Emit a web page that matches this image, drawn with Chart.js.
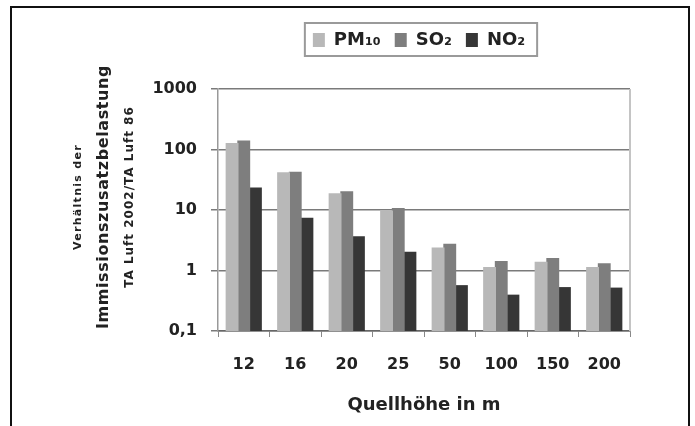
<!DOCTYPE html>
<html><head><meta charset="utf-8">
<script src="https://cdn.jsdelivr.net/npm/chart.js@4.4.1/dist/chart.umd.min.js"></script>
<style>
html,body{margin:0;padding:0;background:#fff;}
#wrap{position:relative;width:695px;height:426px;overflow:hidden;}
#frame{position:absolute;left:10px;top:6px;width:680px;height:440px;border:2px solid #111;border-bottom:none;box-sizing:border-box;}
canvas{position:absolute;left:0;top:0;}
</style></head><body>
<div id="wrap"><div id="frame"></div><canvas id="c" width="695" height="426"></canvas></div>
<script>
const categories = ['12','16','20','25','50','100','150','200'];
const seriesNames = ['PM₁₀','SO₂','NO₂'];
const pm10 = [125, 41, 18.5, 9.6, 2.35, 1.12, 1.36, 1.12];
const so2  = [138, 42, 20, 10.5, 2.7, 1.4, 1.58, 1.29];
const no2  = [23, 7.3, 3.6, 2.0, 0.56, 0.39, 0.52, 0.51];
const yTicks = [0.1, 1, 10, 100, 1000];
const yTickLabels = ['0,1','1','10','100','1000'];
const xTitle = 'Quellhöhe in m';
const yTitleLines = ['Verhältnis der','Immissionszusatzbelastung','TA Luft 2002/TA Luft 86'];

const FONT = '"DejaVu Sans", sans-serif';
const TXT = '#222';

const decor = {
  id: 'decor',
  afterLayout(chart) {
    const lg = chart.legend, ca = chart.chartArea;
    lg.left = ca.left - 5; lg.right = ca.right - 5; lg.width = ca.right - ca.left;
  },
  afterDraw(chart) {
    const ctx = chart.ctx, ca = chart.chartArea;
    ctx.save();
    ctx.strokeStyle = '#c4c4c4'; ctx.lineWidth = 2;
    ctx.beginPath(); ctx.moveTo(ca.right, ca.top); ctx.lineTo(ca.right, ca.bottom); ctx.stroke();
    const hb = chart.legend.legendHitBoxes;
    if (hb && hb.length) {
      const last = hb[hb.length - 1];
      const l = hb[0].left - 8, r = last.left + last.width + 12;
      const t = hb[0].top - 8, b = hb[0].top + hb[0].height + 7;
      ctx.strokeStyle = '#9a9a9a'; ctx.lineWidth = 2;
      ctx.strokeRect(l, t, r - l, b - t);
    }
    const specs = [
      {x: 78, size: 11, sp: '1.3px'},
      {x: 104, size: 16, sp: '0.6px'},
      {x: 130, size: 12, sp: '1px'}
    ];
    const yc = 197;
    ctx.fillStyle = TXT; ctx.textAlign = 'center'; ctx.textBaseline = 'middle';
    specs.forEach((s, i) => {
      ctx.save();
      ctx.translate(s.x, yc);
      ctx.rotate(-Math.PI / 2);
      ctx.font = 'bold ' + s.size + 'px ' + FONT;
      try { ctx.letterSpacing = s.sp; } catch (e) {}
      ctx.fillText(yTitleLines[i], 0, 0);
      ctx.restore();
    });
    ctx.restore();
  }
};

new Chart(document.getElementById('c'), {
  type: 'bar',
  data: {
    labels: categories,
    datasets: [
      {label: seriesNames[0], data: pm10, backgroundColor: '#b8b8b8', borderColor: '#8a8a8a', borderWidth: 0},
      {label: seriesNames[1], data: so2, backgroundColor: '#7e7e7e', borderColor: '#5a5a5a', borderWidth: 0},
      {label: seriesNames[2], data: no2, backgroundColor: '#363636', borderColor: '#1a1a1a', borderWidth: 0}
    ]
  },
  options: {
    responsive: false,
    animation: false,
    devicePixelRatio: 1,
    layout: {padding: {left: 0, right: 65, top: 17, bottom: 0}},
    datasets: {bar: {categoryPercentage: 0.68, barPercentage: 1.0, inflateAmount: 0.6}},
    plugins: {
      legend: {
        position: 'top',
        labels: {
          boxWidth: 12, boxHeight: 14, padding: 14,
          color: TXT, font: {family: FONT, size: 18, weight: 'bold'}
        }
      },
      title: {display: true, text: '', weight: 500, font: {size: 10, lineHeight: 1}, padding: {top: 0, bottom: 20}},
      tooltip: {enabled: false}
    },
    scales: {
      x: {
        afterFit(scale) { scale.height = 95; },
        grid: {display: true, drawOnChartArea: false, drawTicks: true, tickLength: 6, color: '#888', offset: true},
        border: {display: true, color: '#666', width: 1.5},
        ticks: {color: TXT, font: {family: FONT, size: 16, weight: 'bold'}, padding: 18, maxRotation: 0, autoSkip: false},
        title: {display: true, text: xTitle, color: TXT, font: {family: FONT, size: 18, weight: 'bold'}, padding: {top: 0, bottom: 10}}
      },
      y: {
        type: 'logarithmic',
        min: 0.1, max: 1000,
        afterFit(scale) { scale.width = 218; },
        afterBuildTicks(scale) { scale.ticks = yTicks.map(v => ({value: v, major: true})); },
        grid: {color: '#7a7a7a', lineWidth: 1.5, tickLength: 7, drawTicks: true},
        border: {display: true, color: '#999', width: 1.5},
        ticks: {
          color: TXT, padding: 14, autoSkip: false,
          font: {family: FONT, size: 16, weight: 'bold'},
          callback: (v) => { const i = yTicks.indexOf(v); return i >= 0 ? yTickLabels[i] : ''; }
        }
      }
    }
  },
  plugins: [decor]
});
</script>
</body></html>
